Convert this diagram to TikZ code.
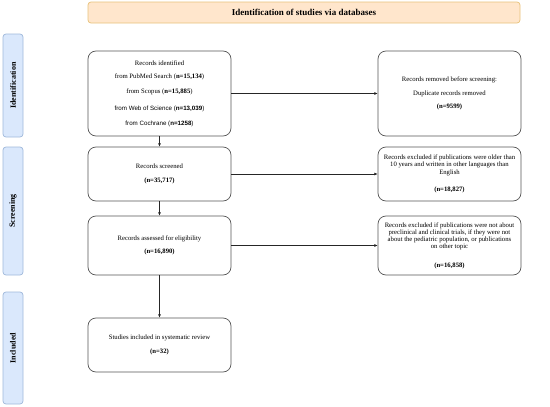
\documentclass[tikz,border=0pt]{standalone}
\usepackage{fontspec}
\setmainfont{Liberation Serif}
\newfontfamily\hsans{Liberation Sans}
\usetikzlibrary{arrows.meta}
\definecolor{bannerfill}{HTML}{FFE6CC}
\definecolor{bannerdraw}{HTML}{E8C27A}
\definecolor{sidefill}{HTML}{DAE8FC}
\definecolor{sidedraw}{HTML}{9FB8DA}
\definecolor{boxdraw}{HTML}{555555}
\begin{document}
\begin{tikzpicture}[x=1pt,y=-1pt,
  box/.style={draw=boxdraw,line width=0.7pt,rounded corners=8pt,minimum width=143pt,align=center,inner sep=2pt,font=\fontsize{6.7}{7.3}\selectfont},
  sidelab/.style={draw=sidedraw,fill=sidefill,line width=0.7pt,rounded corners=3pt,font=\fontsize{8}{9}\selectfont\bfseries,rotate=90},
  conn/.style={draw=black!85,line width=0.55pt,-{Latex[length=3.2pt,width=2.8pt]}}]
\useasboundingbox (0,0) rectangle (550,407);
\node[draw=bannerdraw,fill=bannerfill,line width=0.7pt,rounded corners=3pt,minimum width=432pt,minimum height=21pt,font=\fontsize{9}{10}\selectfont\bfseries] (banner) at (304,12.5) {Identification of studies via databases};
\node[sidelab,minimum height=20pt,minimum width=103pt] (idlab) at (13,85.5) {Identification};
\node[sidelab,minimum height=20pt,minimum width=128pt] (scrlab) at (13,211) {Screening};
\node[sidelab,minimum height=20pt,minimum width=112pt] (inclab) at (13,348) {Included};
\node[box,minimum height=85pt] (ident) at (159.5,93.5) {Records identified\\[6.5pt]
from PubMed Search (\textbf{n=15,134})\\[7pt]
from Scopus (\textbf{n=15,885})\\[10pt]
{\hsans\fontsize{6.2}{7.3}\selectfont from Web of Science (\textbf{n=13,039})}\\[7.5pt]
{\hsans\fontsize{6.2}{7.3}\selectfont from Cochrane (\textbf{n=1258})}};
\node[box,minimum height=85pt] (removed) at (449.5,93.5) {Records removed before screening:\\[6.5pt]
Duplicate records removed\\[6.5pt]
\textbf{(n=9599)}};
\node[box,minimum height=54pt] (screened) at (159.5,174) {Records screened\\[7pt]
\textbf{(n=35,717)}};
\node[box,minimum height=54pt] (excl1) at (449.5,174) {Records excluded if publications were older than\\
10 years and written in other languages than\\
English\\[10pt]
\textbf{(n=18,827)}};
\node[box,minimum height=59pt] (elig) at (159.5,245.5) {Records assessed for eligibility\\[6pt]
\textbf{(n=16,890)}};
\node[box,minimum height=59pt] (excl2) at (449.5,245.5) {Records excluded if publications were not about\\
preclinical and clinical trials, if they were not\\
about the pediatric population, or publications\\
on other topic\\[11pt]
\textbf{(n=16,858)}};
\node[box,minimum height=54pt] (incl) at (159.5,345) {Studies included in systematic review\\[7pt]
\textbf{(n=32)}};
\draw[conn] (ident) -- (removed);
\draw[conn] (screened) -- (excl1);
\draw[conn] (elig) -- (excl2);
\draw[conn] (ident) -- (screened);
\draw[conn] (screened) -- (elig);
\draw[conn] (elig) -- (incl);
\end{tikzpicture}
\end{document}
